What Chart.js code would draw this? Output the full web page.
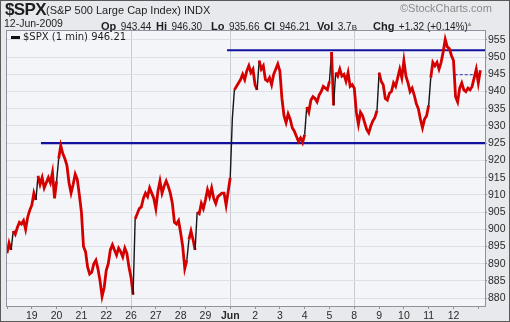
<!DOCTYPE html>
<html>
<head>
<meta charset="utf-8">
<title>$SPX (1 min)</title>
<script src="https://cdn.jsdelivr.net/npm/chart.js@4.4.1/dist/chart.umd.min.js"></script>
<style>
    html, body { margin: 0; padding: 0; background: #fff; }
    #wrap { position: relative; width: 510px; height: 322px; overflow: hidden;
            font-family: "Liberation Sans", Arial, sans-serif; color: #1e1e1e; }
    #spxChart { position: absolute; left: 0; top: 0; }
    .hdr { position: absolute; white-space: nowrap; line-height: normal; }
    .lbl { font-weight: bold; font-size: 11px; }
    .val { font-size: 10px; }
    #sym { left: 5px; top: 0px; font-size: 17px; font-weight: bold; letter-spacing: -0.6px; }
    #name { left: 46px; top: 4px; font-size: 11px; }
    #date { left: 4px; top: 17px; font-size: 10.5px; }
    #copy { left: 400px; top: 2px; font-size: 11px; color: #8a8a8a; }
    #arrow { left: 466px; top: 20px; font-size: 7px; color: #9a9a9a; }
    #legend { left: 11px; top: 31px; font-family: "DejaVu Sans", Verdana, sans-serif; font-size: 10px; }
    #legend .dash { display: inline-block; width: 9px; height: 3px; background: #111; vertical-align: middle; margin-right: 3px; }
</style>
</head>
<body>
<div id="wrap">
    <canvas id="spxChart" width="510" height="322"></canvas>
    <div class="hdr" id="sym">$SPX</div>
    <div class="hdr" id="name">(S&amp;P 500 Large Cap Index) INDX</div>
    <div class="hdr" id="date">12-Jun-2009</div>
    <div class="hdr" style="left:101px;top:16px"><span class="lbl">Op</span> <span class="val">943.44</span></div>
    <div class="hdr" style="left:156px;top:16px"><span class="lbl">Hi</span> <span class="val">946.30</span></div>
    <div class="hdr" style="left:211px;top:16px"><span class="lbl">Lo</span> <span class="val">935.66</span></div>
    <div class="hdr" style="left:264px;top:16px"><span class="lbl">Cl</span> <span class="val">946.21</span></div>
    <div class="hdr" style="left:317px;top:16px"><span class="lbl">Vol</span> <span class="val">3.7<span style="font-size:8px">B</span></span></div>
    <div class="hdr" style="left:373px;top:16px"><span class="lbl">Chg</span> <span class="val">+1.32 (+0.14%)</span></div>
    <div class="hdr" id="arrow">&#9650;</div>
    <div class="hdr" id="copy">&copy;StockCharts.com</div>
    <div class="hdr" id="legend"><span class="dash"></span>$SPX (1 min) 946.21</div>
</div>
<script>
// trading sessions shown on the x axis (first session, May 18, is unlabelled)
var sessionLabels = ['18', '19', '20', '21', '22', '26', '27', '28', '29', 'Jun',
    '2', '3', '4', '5', '8', '9', '10', '11', '12'];

// sessions that start a new week get a vertical grid line
var weekStarts = [5, 9, 14];

// prices, 12 readings per session
var samplesPerSession = 12;
var sessionPrices = [
    [893, 896, 894, 899.5, 898.5, 900.5, 902, 901.5, 902.5, 900, 903.5, 905.5],           // May 18
    [907, 910.5, 908.5, 915.5, 913, 915, 912, 913.5, 915, 913.5, 916.5, 909],             // 19
    [914, 920.5, 924.3, 922, 920.5, 918.5, 913.5, 910.5, 913, 916, 914.5, 910],           // 20
    [905, 895, 893.5, 889, 887, 887.5, 890, 891, 888.5, 885, 880.5, 883],                 // 21
    [888, 890, 894, 895.5, 894, 892.5, 894.5, 893.5, 892, 894.5, 893, 889],               // 22
    [886, 881, 903, 904.5, 906, 906.5, 909, 910.5, 909.5, 912, 910.5, 909],               // 26
    [906, 911, 914, 910.5, 912.5, 914, 912.5, 910.5, 907.5, 902, 901.5, 902.5],           // 27
    [899, 895, 888.6, 891, 897, 899.5, 897, 894, 905, 904.5, 907.5, 906],                 // 28
    [908.5, 911.5, 909.5, 912, 909, 907.5, 909.5, 910, 910.5, 910.5, 907, 911],           // 29
    [915, 932, 940.5, 941.5, 942.5, 943.5, 945, 943.5, 946, 947.5, 945.5, 946.5],         // Jun 1
    [942, 940.5, 949, 946.5, 947.5, 943.5, 943, 944, 942, 945, 946.5, 948],               // 2
    [946, 938, 933, 931, 933.5, 932, 929.5, 928.5, 927, 925.5, 926.5, 925.2],             // 3
    [927.5, 935.5, 934, 937.5, 938.5, 938, 937, 939, 940, 941.5, 941, 940.5],             // 4
    [943, 951.5, 936, 945.5, 944.5, 946.5, 944.5, 945, 943, 945.5, 941.5, 942],           // 5
    [941, 934, 930.5, 934, 933, 931, 929, 928, 930, 931.5, 932.5, 934.5],                 // 8
    [945.5, 943, 942, 938, 937.5, 939.5, 940, 942.5, 941.5, 944, 946.5, 944],             // 9
    [949, 944.5, 942.5, 940, 941, 939, 936.5, 935, 932, 929.5, 932, 933],                 // 10
    [936, 944, 948.5, 947.5, 948.5, 946.5, 948.5, 951.5, 955.2, 953, 952.5, 950.5],       // 11
    [949, 938.5, 937, 941, 942.5, 940.5, 940, 941, 940.5, 941.5, 944, 946.5, 942.5, 946.21] // 12
];

// drawn trend lines and previous close
var supportLevel = 925;
var supportFrom = 1.37;
var resistanceLevel = 952;
var resistanceFrom = 8.87;
var prevClose = 944.89;

var xMax = 19.27;
var yMin = 877.7;
var yMax = 957.6;

(function() {
    'use strict';

    var fontFamily = '"Liberation Sans", Arial, sans-serif';

    function buildSeries() {
        var points = [];
        sessionPrices.forEach(function(day, d) {
            day.forEach(function(price, i) {
                points.push({ x: d + i / samplesPerSession, y: price });
            });
        });
        return points;
    }

    function isSteepUp(ctx) {
        return ctx.p1.parsed.y - ctx.p0.parsed.y > 5;
    }

    var backdrop = {
        id: 'backdrop',
        beforeDraw: function(chart) {
            var c = chart.ctx;
            var a = chart.chartArea;
            c.save();
            c.fillStyle = '#e7e9ed';
            c.fillRect(0, 0, chart.width, chart.height);
            c.fillStyle = '#f4f5f9';
            c.fillRect(a.left, a.top, a.right - a.left, a.bottom - a.top);
            c.restore();
        },
        afterDraw: function(chart) {
            var c = chart.ctx;
            var a = chart.chartArea;
            c.save();
            c.strokeStyle = '#8f939c';
            c.lineWidth = 1;
            c.strokeRect(a.left - 0.5, a.top - 0.5, a.right - a.left + 1, a.bottom - a.top + 1);
            c.strokeStyle = '#5a5a5a';
            c.strokeRect(0.5, 0.5, chart.width - 1, chart.height - 1);
            c.restore();
        }
    };

    new Chart(document.getElementById('spxChart'), {
        type: 'line',
        data: {
            datasets: [{
                label: '$SPX',
                data: buildSeries(),
                borderColor: '#d40000',
                borderWidth: 2.8,
                pointRadius: 0,
                order: 0,
                segment: {
                    borderColor: function(ctx) { return isSteepUp(ctx) ? '#161616' : undefined; },
                    borderWidth: function(ctx) { return isSteepUp(ctx) ? 1.4 : undefined; }
                }
            }, {
                label: 'support',
                data: [{ x: supportFrom, y: supportLevel }, { x: xMax, y: supportLevel }],
                borderColor: '#12129c',
                borderWidth: 2.2,
                pointRadius: 0,
                order: 1
            }, {
                label: 'resistance',
                data: [{ x: resistanceFrom, y: resistanceLevel }, { x: xMax, y: resistanceLevel }],
                borderColor: '#12129c',
                borderWidth: 2.2,
                pointRadius: 0,
                order: 1
            }, {
                label: 'prev close',
                data: [{ x: 18.05, y: prevClose }, { x: 18.9, y: prevClose }],
                borderColor: '#2b2bb0',
                borderWidth: 1,
                borderDash: [3, 2],
                pointRadius: 0,
                order: 1
            }]
        },
        options: {
            responsive: false,
            animation: false,
            devicePixelRatio: 1,
            layout: { padding: { left: 7, top: 31, right: 0, bottom: 0 } },
            plugins: {
                legend: { display: false },
                tooltip: { enabled: false }
            },
            scales: {
                x: {
                    type: 'linear',
                    min: 0,
                    max: xMax,
                    afterFit: function(scale) { scale.height = 16; },
                    border: { display: false },
                    grid: {
                        color: function(ctx) {
                            return ctx.tick && weekStarts.indexOf(ctx.tick.value) !== -1 ? '#c6cad3' : 'rgba(0,0,0,0)';
                        },
                        tickColor: '#8f939c',
                        tickLength: 3
                    },
                    ticks: {
                        stepSize: 1,
                        autoSkip: false,
                        maxRotation: 0,
                        includeBounds: false,
                        padding: 1,
                        color: '#2a2a2a',
                        font: function(ctx) {
                            var bold = ctx.tick && ctx.tick.label === 'Jun';
                            return { family: fontFamily, size: 10.5, weight: bold ? 'bold' : 'normal' };
                        },
                        callback: function(value) {
                            return value > 0 && value < sessionLabels.length ? sessionLabels[value] : '';
                        }
                    }
                },
                y: {
                    position: 'right',
                    min: yMin,
                    max: yMax,
                    afterFit: function(scale) { scale.width = 25; },
                    border: { display: false },
                    grid: { color: '#dcdfe6', tickColor: '#8f939c', tickLength: 2 },
                    ticks: {
                        stepSize: 5,
                        includeBounds: false,
                        padding: 1,
                        color: '#2a2a2a',
                        font: { family: fontFamily, size: 10.5 },
                        callback: function(value) { return String(value); }
                    }
                }
            }
        },
        plugins: [backdrop]
    });
})();
</script>
</body>
</html>
